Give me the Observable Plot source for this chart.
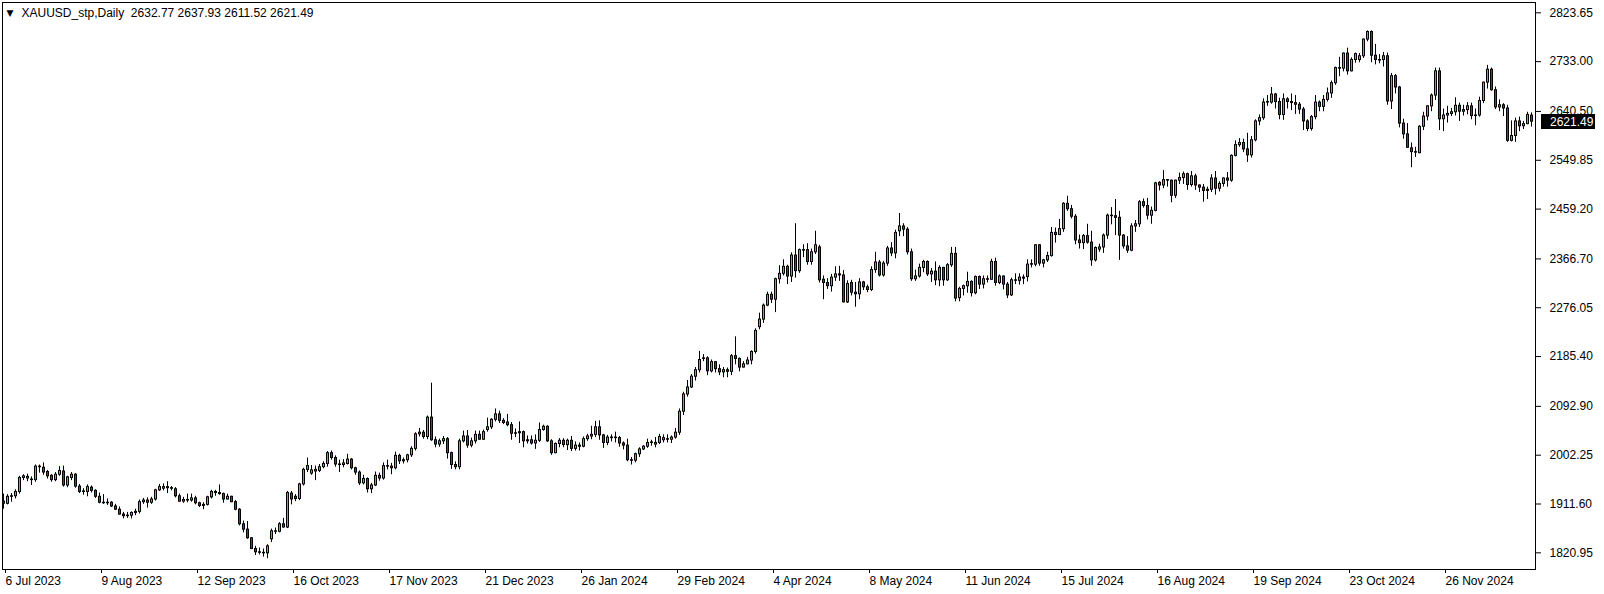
<!DOCTYPE html>
<html><head><meta charset="utf-8">
<script src="https://cdn.jsdelivr.net/npm/d3@7"></script>
<script src="https://cdn.jsdelivr.net/npm/@observablehq/plot@0.6"></script>
<style>
html,body{margin:0;padding:0;background:#fff;}
#chart{width:1604px;height:594px;}
</style></head><body><div id="chart"></div>
<script>
const symbolTitle = "XAUUSD_stp,Daily";
const lastBarValues = ["2632.77", "2637.93", "2611.52", "2621.49"];
const dateTickBars = [0, 24, 48, 72, 96, 120, 144, 168, 192, 216, 240, 264, 288, 312, 336, 360];
const dateTickLabels = ["6 Jul 2023", "9 Aug 2023", "12 Sep 2023", "16 Oct 2023", "17 Nov 2023", "21 Dec 2023", "26 Jan 2024", "29 Feb 2024", "4 Apr 2024", "8 May 2024", "11 Jun 2024", "15 Jul 2024", "16 Aug 2024", "19 Sep 2024", "23 Oct 2024", "26 Nov 2024"];
const priceTicks = [2823.65, 2733.00, 2640.50, 2549.85, 2459.20, 2366.70, 2276.05, 2185.40, 2092.90, 2002.25, 1911.60, 1820.95];

const opens = [
1916,1912,1925,1926,1934,1960,1959,1957,1956,1981,
1979,1971,1964,1956,1966,1972,1946,1960,1966,1944,
1935,1934,1942,1936,1925,1914,1913,1914,1907,1901,
1892,1889,1890,1895,1897,1915,1918,1914,1920,1937,
1940,1943,1941,1939,1926,1916,1919,1918,1922,1913,
1908,1910,1924,1934,1932,1930,1920,1925,1915,1901,
1874,1864,1848,1828,1822,1821,1820,1846,1861,1860,
1874,1868,1931,1925,1921,1948,1975,1968,1972,1973,
1980,1986,2006,1997,1985,1984,1986,1994,1978,1970,
1950,1958,1939,1946,1964,1959,1982,1981,1978,2001,
1991,1993,2002,2014,2041,2044,2036,2072,2030,2022,
2028,2032,2006,1984,1980,2028,2037,2020,2028,2040,
2031,2049,2054,2068,2078,2066,2063,2058,2042,2043,
2045,2028,2030,2024,2029,2049,2055,2028,2006,2023,
2029,2021,2029,2014,2020,2018,2032,2037,2040,2054,
2039,2025,2035,2034,2034,2024,2020,1993,1992,2004,
2013,2018,2025,2022,2025,2030,2032,2031,2035,2044,
2083,2115,2128,2148,2160,2181,2182,2158,2175,2162,
2156,2160,2157,2186,2181,2165,2171,2178,2194,2240,
2254,2280,2300,2291,2329,2339,2352,2334,2373,2344,
2383,2383,2361,2379,2388,2328,2322,2316,2332,2338,
2336,2286,2322,2304,2301,2323,2314,2309,2346,2360,
2336,2358,2386,2377,2418,2427,2421,2379,2329,2334,
2350,2361,2338,2343,2327,2350,2327,2355,2376,2294,
2311,2316,2324,2303,2333,2319,2329,2328,2361,2322,
2334,2319,2299,2327,2326,2332,2333,2356,2356,2392,
2358,2364,2372,2415,2411,2422,2469,2459,2445,2401,
2396,2409,2397,2364,2384,2388,2410,2447,2446,2443,
2410,2390,2382,2427,2431,2472,2465,2447,2456,2508,
2503,2513,2512,2484,2512,2517,2524,2504,2520,2503,
2499,2493,2495,2516,2497,2506,2516,2512,2558,2578,
2582,2570,2559,2587,2622,2628,2657,2657,2672,2658,
2634,2663,2658,2656,2653,2644,2622,2608,2630,2657,
2649,2662,2674,2693,2721,2720,2748,2715,2736,2736,
2743,2774,2788,2744,2736,2736,2743,2659,2706,2685,
2618,2598,2572,2565,2563,2612,2631,2650,2670,2715,
2626,2633,2636,2639,2651,2640,2643,2650,2632,2633,
2660,2694,2718,2680,2648,2652,2646,2586,2595,2622,
2613,2617,2632.77];

const highs = [
1930,1929,1931,1938,1963,1966,1967,1962,1984,1984,
1988,1974,1966,1970,1981,1982,1963,1970,1968,1948,
1940,1947,1945,1938,1932,1929,1921,1916,1911,1906,
1896,1896,1897,1902,1919,1922,1923,1924,1939,1948,
1949,1953,1944,1942,1930,1924,1930,1930,1926,1915,
1914,1926,1937,1937,1947,1932,1930,1926,1918,1903,
1880,1879,1849,1833,1830,1828,1836,1865,1867,1877,
1885,1935,1935,1929,1950,1978,1997,1983,1982,1985,
1990,2009,2010,2001,1993,1994,2004,1996,1980,1973,
1965,1960,1950,1971,1969,1988,1993,1987,2008,2004,
1997,2004,2018,2044,2052,2048,2075,2136,2036,2032,
2037,2035,2008,1990,2032,2047,2048,2034,2047,2047,
2049,2071,2070,2088,2084,2070,2078,2063,2051,2064,
2047,2038,2038,2040,2062,2058,2057,2031,2025,2033,
2033,2032,2037,2027,2025,2036,2041,2056,2065,2066,
2041,2039,2040,2045,2037,2027,2032,1998,2006,2016,
2020,2032,2030,2035,2041,2040,2040,2038,2052,2088,
2119,2141,2152,2165,2195,2189,2185,2179,2176,2170,
2165,2164,2189,2222,2183,2176,2184,2196,2237,2266,
2283,2305,2305,2331,2354,2365,2355,2378,2432,2385,
2393,2395,2385,2418,2392,2335,2330,2338,2352,2353,
2345,2326,2327,2323,2330,2325,2318,2352,2379,2364,
2362,2390,2397,2420,2451,2432,2425,2385,2346,2357,
2364,2363,2349,2361,2354,2351,2358,2388,2388,2314,
2318,2342,2326,2335,2335,2335,2335,2366,2368,2337,
2335,2323,2331,2339,2339,2337,2365,2365,2393,2393,
2366,2379,2425,2424,2440,2471,2483,2466,2449,2411,
2412,2431,2418,2389,2394,2413,2450,2462,2477,2455,
2412,2408,2432,2438,2475,2478,2479,2463,2509,2510,
2531,2514,2513,2513,2526,2528,2526,2529,2524,2504,
2505,2500,2523,2529,2510,2517,2527,2560,2586,2590,
2589,2600,2594,2625,2634,2664,2670,2685,2674,2665,
2673,2666,2673,2670,2657,2648,2625,2633,2670,2660,
2670,2684,2697,2723,2741,2749,2758,2740,2749,2748,
2775,2790,2790,2765,2746,2750,2749,2711,2709,2687,
2626,2618,2582,2574,2614,2639,2651,2673,2721,2721,
2645,2650,2646,2666,2656,2652,2657,2656,2645,2667,
2695,2726,2721,2686,2662,2655,2652,2623,2628,2630,
2622,2639,2637.93];

const lows = [
1902,1910,1915,1921,1930,1955,1953,1946,1952,1969,
1965,1958,1952,1953,1963,1943,1942,1955,1941,1931,
1928,1925,1932,1922,1912,1911,1909,1905,1900,1891,
1884,1885,1884,1890,1893,1911,1904,1911,1917,1935,
1936,1931,1936,1923,1915,1913,1914,1915,1910,1905,
1901,1908,1921,1926,1928,1913,1919,1914,1899,1871,
1858,1846,1827,1816,1817,1813,1810,1840,1855,1858,
1867,1866,1910,1916,1918,1945,1970,1965,1955,1970,
1977,1980,1993,1980,1970,1979,1984,1975,1965,1946,
1947,1932,1931,1944,1954,1956,1975,1966,1975,1985,
1986,1988,1998,2010,2036,2032,2031,2028,2016,2017,
2022,1995,1976,1975,1975,2025,2015,2016,2023,2030,
2030,2045,2050,2064,2061,2059,2055,2030,2035,2024,
2016,2023,2021,2013,2026,2047,2026,2002,2005,2016,
2016,2011,2009,2010,2010,2016,2028,2031,2035,2030,
2015,2020,2027,2025,2017,2012,1990,1984,1988,1998,
2011,2015,2019,2016,2022,2025,2025,2024,2032,2039,
2076,2110,2126,2140,2155,2176,2150,2155,2155,2150,
2146,2146,2150,2170,2157,2164,2170,2170,2190,2235,
2247,2278,2284,2267,2320,2335,2319,2323,2331,2340,
2369,2355,2355,2375,2322,2291,2310,2305,2325,2325,
2285,2284,2298,2277,2291,2308,2304,2306,2340,2333,
2333,2353,2371,2367,2408,2408,2374,2325,2325,2331,
2341,2334,2323,2317,2315,2316,2325,2351,2287,2287,
2298,2303,2296,2300,2310,2311,2322,2327,2316,2319,
2309,2293,2297,2319,2318,2319,2324,2350,2352,2353,
2350,2360,2370,2396,2410,2416,2455,2441,2393,2385,
2384,2394,2353,2361,2379,2377,2403,2430,2410,2364,
2385,2377,2380,2416,2425,2461,2439,2431,2454,2493,
2497,2500,2471,2479,2505,2505,2494,2500,2494,2490,
2472,2477,2490,2485,2491,2500,2500,2509,2556,2574,
2564,2546,2554,2584,2614,2624,2650,2654,2645,2625,
2624,2645,2642,2635,2635,2605,2603,2604,2625,2640,
2640,2658,2665,2689,2705,2714,2708,2714,2730,2731,
2739,2770,2731,2727,2729,2723,2652,2644,2673,2610,
2589,2572,2536,2555,2562,2605,2623,2640,2661,2605,
2603,2619,2631,2632,2622,2632,2634,2625,2614,2630,
2655,2682,2678,2644,2640,2631,2583,2584,2583,2603,
2607,2616,2611.52];

const closes = [
1912,1925,1926,1934,1960,1963,1962,1956,1981,1980,
1970,1963,1956,1966,1973,1946,1961,1966,1944,1934,
1934,1943,1936,1925,1914,1913,1914,1907,1901,1892,
1889,1890,1895,1897,1915,1918,1914,1920,1937,1943,
1943,1941,1940,1926,1916,1919,1918,1922,1913,1908,
1910,1924,1934,1932,1930,1920,1925,1915,1901,1874,
1864,1848,1828,1822,1821,1820,1833,1861,1860,1874,
1868,1932,1920,1921,1948,1975,1982,1974,1975,1980,
1986,2006,1997,1985,1984,1987,1994,1978,1970,1950,
1958,1939,1946,1964,1959,1982,1981,1978,2001,1991,
1993,2002,2014,2041,2044,2036,2072,2030,2022,2028,
2032,2006,1984,1980,2028,2037,2020,2028,2040,2031,
2045,2054,2068,2078,2066,2062,2058,2042,2043,2045,
2028,2030,2024,2029,2049,2055,2028,2006,2023,2029,
2021,2029,2014,2020,2018,2032,2037,2040,2054,2039,
2025,2035,2034,2035,2024,2020,1993,1992,2004,2013,
2018,2025,2026,2025,2036,2034,2031,2035,2044,2083,
2115,2128,2148,2160,2179,2182,2158,2175,2162,2156,
2160,2157,2186,2181,2165,2171,2178,2194,2233,2254,
2280,2300,2291,2329,2339,2352,2334,2373,2344,2383,
2382,2361,2379,2392,2327,2322,2316,2332,2338,2336,
2286,2320,2304,2301,2323,2314,2309,2346,2360,2336,
2358,2386,2377,2415,2427,2421,2379,2329,2334,2350,
2361,2338,2343,2327,2350,2327,2355,2376,2293,2311,
2316,2324,2303,2333,2319,2329,2328,2361,2322,2334,
2319,2299,2327,2326,2332,2330,2356,2357,2392,2358,
2364,2372,2415,2411,2422,2469,2459,2445,2401,2396,
2409,2397,2364,2387,2388,2410,2447,2446,2443,2410,
2390,2382,2427,2431,2472,2465,2447,2456,2507,2503,
2513,2512,2484,2512,2517,2524,2504,2520,2503,2499,
2493,2495,2516,2497,2506,2516,2512,2558,2578,2582,
2570,2559,2587,2622,2628,2657,2658,2672,2658,2634,
2663,2658,2656,2653,2644,2622,2608,2630,2657,2649,
2662,2674,2693,2721,2720,2748,2715,2736,2747,2743,
2774,2788,2744,2736,2735,2743,2659,2706,2685,2618,
2598,2573,2565,2564,2612,2631,2650,2670,2715,2626,
2633,2636,2639,2651,2640,2643,2650,2632,2633,2660,
2694,2718,2680,2648,2652,2646,2586,2595,2622,2613,
2617,2634,2621.49];

const bullColor = "#00ff00";
const bearColor = "#ff0000";

const bars = opens.map((o, i) => ({i, o, h: highs[i], l: lows[i], c: closes[i], up: closes[i] >= o}));
const lastClose = closes[closes.length - 1];

const font = "'Liberation Sans', Arial, sans-serif";

const chart = Plot.plot({
  width: 1604,
  height: 594,
  marginLeft: 2,
  marginRight: 69,
  marginTop: 2,
  marginBottom: 25,
  style: {fontFamily: font, fontSize: "12px", color: "#000", background: "#fff", overflow: "visible"},
  x: {type: "linear", domain: [-0.25, 383], axis: null},
  y: {type: "linear", domain: [1790.0, 2842.8], axis: null},
  marks: [
    // wicks
    Plot.ruleX(bars, {x: "i", y1: "l", y2: "h", stroke: "#000", strokeWidth: 1}),
    // body outline (black, 3 px wide, extended half a pixel up and down)
    Plot.rect(bars, {x1: d => d.i - 0.375, x2: d => d.i + 0.375, y1: "o", y2: "c", fill: "#000", insetTop: -0.5, insetBottom: -0.5}),
    // body fill (1 px wide inside the outline)
    Plot.rect(bars, {x1: d => d.i - 0.125, x2: d => d.i + 0.125, y1: "o", y2: "c", fill: d => d.up ? bullColor : bearColor, insetTop: 0.5, insetBottom: 0.5}),
    Plot.frame({stroke: "#000"}),
    Plot.axisY({ticks: priceTicks, anchor: "right", tickSize: 5, tickPadding: 9, tickFormat: d3.format(".2f"), label: null}),
    Plot.axisX({ticks: dateTickBars, anchor: "bottom", tickSize: 4, tickPadding: 3, tickFormat: d => dateTickLabels[dateTickBars.indexOf(d)], textAnchor: "start", dx: 2, label: null}),
    Plot.text([0], {frameAnchor: "top-left", text: () => "\u25BC", dx: 4, dy: 11, fontSize: 9, fontFamily: "'DejaVu Sans', sans-serif", lineAnchor: "middle", textAnchor: "start"}),
    Plot.text([0], {frameAnchor: "top-left", text: () => symbolTitle + "\u00A0\u00A0" + lastBarValues.join(" "), dx: 19, dy: 11, fontSize: 12, lineAnchor: "middle", textAnchor: "start", letterSpacing: "0.4px"})
  ]
});

document.getElementById("chart").appendChild(chart);

const svg = d3.select(chart);
// pin candle and frame groups to the pixel grid so 1 px lines stay crisp
svg.selectAll("g[aria-label='rule'], g[aria-label='rect'], g[aria-label='frame']").attr("transform", "translate(0.5,0)");
svg.selectAll("g[aria-label='rect']").attr("transform", "translate(0.5,0)");

// current price tag on the price axis
const yScale = chart.scale("y");
const yy = Math.round(yScale.apply(lastClose));
const tag = svg.append("g").attr("text-anchor", "start");
tag.append("rect").attr("x", 1541).attr("y", yy - 7).attr("width", 54).attr("height", 15).attr("fill", "#000");
tag.append("text").attr("x", 1550).attr("y", yy + 4.5).attr("fill", "#fff").attr("text-anchor", "start")
  .attr("font-family", font).attr("font-size", 12).text(d3.format(".2f")(lastClose));
</script>
</body></html>
